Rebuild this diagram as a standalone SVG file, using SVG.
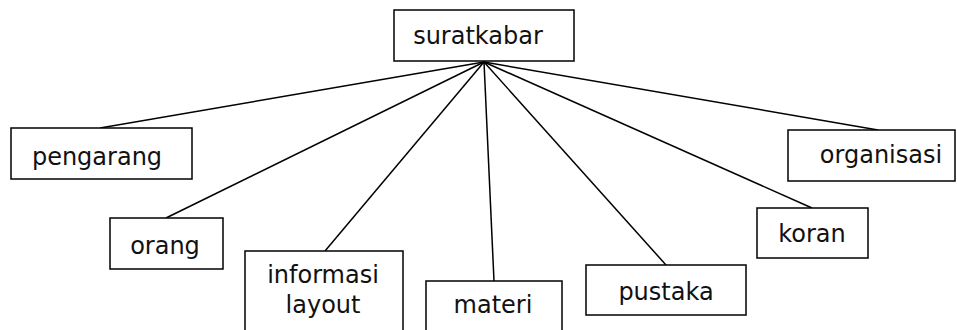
<svg xmlns="http://www.w3.org/2000/svg" width="957" height="330" viewBox="0 0 957 330">
  <style>
    .box { fill: #ffffff; stroke: #000000; stroke-width: 1.5; }
    .lbl { font-family: "DejaVu Sans", Verdana, sans-serif; font-size: 24px; fill: #111111; text-anchor: middle; }
    .edge { stroke: #000000; stroke-width: 1.5; fill: none; }
  </style>
  <rect width="957" height="330" fill="#ffffff"/>

  <!-- connectors from the root -->
  <g id="connectors">
    <line class="edge" x1="484" y1="62" x2="100" y2="128"/>
    <line class="edge" x1="484" y1="62" x2="166" y2="218"/>
    <line class="edge" x1="484" y1="62" x2="325" y2="251"/>
    <line class="edge" x1="484" y1="62" x2="494" y2="281"/>
    <line class="edge" x1="484" y1="62" x2="666" y2="265"/>
    <line class="edge" x1="484" y1="62" x2="812" y2="208"/>
    <line class="edge" x1="484" y1="62" x2="878" y2="130"/>
  </g>

  <g id="suratkabar">
    <rect class="box" x="394" y="10" width="180" height="51"/>
    <text class="lbl" x="478" y="44">suratkabar</text>
  </g>

  <g id="pengarang">
    <rect class="box" x="11" y="128" width="181" height="51"/>
    <text class="lbl" x="97" y="165">pengarang</text>
  </g>

  <g id="orang">
    <rect class="box" x="110" y="218" width="113" height="51"/>
    <text class="lbl" x="165" y="254">orang</text>
  </g>

  <g id="informasi-layout">
    <rect class="box" x="245" y="251" width="158" height="90"/>
    <text class="lbl" x="323" y="283">informasi</text>
    <text class="lbl" x="323" y="313">layout</text>
  </g>

  <g id="materi">
    <rect class="box" x="426" y="281" width="136" height="60"/>
    <text class="lbl" x="493" y="313">materi</text>
  </g>

  <g id="pustaka">
    <rect class="box" x="586" y="265" width="160" height="50"/>
    <text class="lbl" x="666" y="300">pustaka</text>
  </g>

  <g id="koran">
    <rect class="box" x="757" y="208" width="111" height="50"/>
    <text class="lbl" x="812" y="242">koran</text>
  </g>

  <g id="organisasi">
    <rect class="box" x="788" y="130" width="167" height="51"/>
    <text class="lbl" x="881" y="163">organisasi</text>
  </g>
</svg>
